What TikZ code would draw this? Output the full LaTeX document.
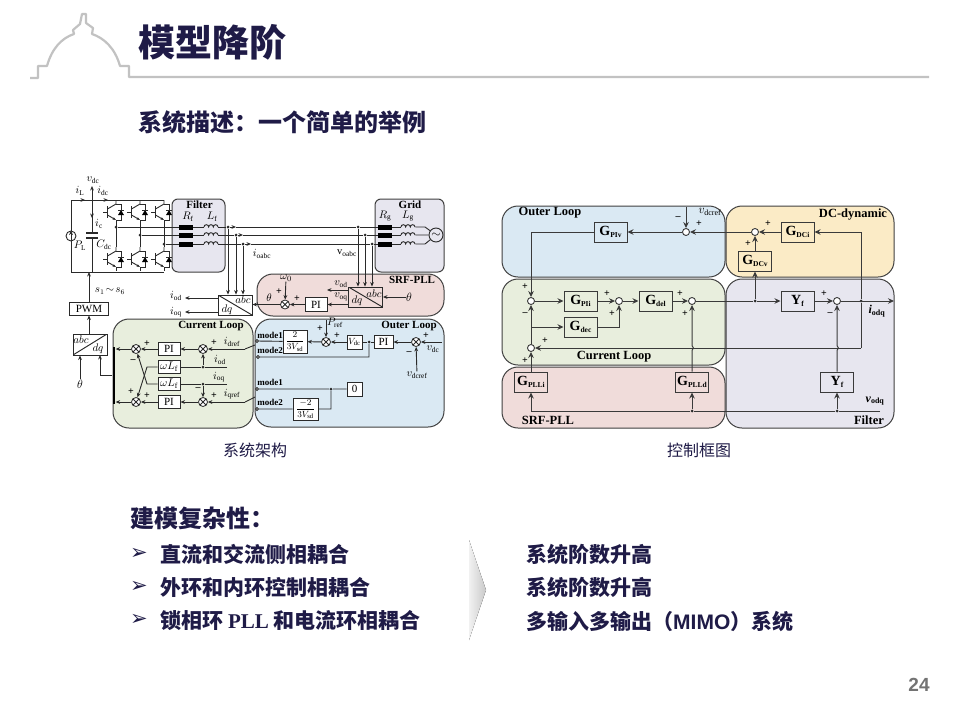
\documentclass[tikz,border=0pt]{standalone}
\usepackage{fontspec}
\setmainfont{Liberation Serif}
\newfontfamily\cjk{Noto Sans CJK SC}
\newfontfamily\numfont{Liberation Sans}
\newfontfamily\symfont{DejaVu Sans}
\usetikzlibrary{arrows.meta}
\newcommand{\fs}[1]{\fontsize{#1}{#1}\selectfont}
\newcommand{\gsub}[2]{#1\raisebox{-.3ex}{\fs{7.5}#2}}
\definecolor{ink}{HTML}{1F1B47}
\definecolor{wire}{HTML}{2A2A2A}
\definecolor{wirer}{HTML}{3A3A3A}
\definecolor{rulegray}{HTML}{C2C2C2}
\definecolor{outerblue}{HTML}{DAE9F3}
\definecolor{currgreen}{HTML}{E8EEDD}
\definecolor{pllred}{HTML}{F0DCDA}
\definecolor{dcyellow}{HTML}{FBEBC6}
\definecolor{filtgray}{HTML}{E7E6EF}
\definecolor{chevl}{HTML}{F1F1F1}
\definecolor{chevr}{HTML}{C9C9C9}
\tikzset{
  coil/.pic={\draw (-7,0) arc (180:360:2.33) arc (180:360:2.33) arc (180:360:2.33);},
  igbt/.pic={
    \draw (-13,0) -- (-9,0);
    \draw[line width=1.3pt] (-8.5,-6) -- (-8.5,6);
    \draw (-8.5,-3) -- (0,-8) -- (0,-12);
    \draw[-{Stealth[length=3.5pt]}] (-8.5,3) -- (0,8);
    \draw (0,8) -- (0,12);
    \draw (0,-8) -- (5,-8) -- (5,8) -- (0,8);
    \fill (2,3) -- (8,3) -- (5,-2) -- cycle;
    \draw (2,-2) -- (8,-2);
  },
}
\begin{document}
\begin{tikzpicture}[
  x=1pt,y=-1pt,
  >={Stealth[length=4.5pt,width=3.8pt]},
  wires/.style={draw=wire,line width=.9pt},
  region/.style={draw=black!75,line width=1pt,rounded corners=16pt,inner sep=0pt},
  smallregion/.style={draw=black!75,line width=1pt,rounded corners=6pt,inner sep=0pt},
  block/.style={draw=wire,line width=.95pt,fill=white,inner sep=0pt,font=\fs{11}},
  xfm/.style={block,fill=none,minimum width=34,minimum height=20,
    path picture={\draw (path picture bounding box.north west) -- (path picture bounding box.south east);}},
  xfmr/.style={block,fill=none,minimum width=34,minimum height=21,
    path picture={\draw (path picture bounding box.south west) -- (path picture bounding box.north east);}},
  gblock/.style={block,draw=wirer,line width=1pt,fill=none,minimum width=33,minimum height=20,font=\fs{14}\bfseries},
  sumx/.style={circle,draw=wire,fill=white,inner sep=0pt,minimum size=9,line width=.8pt,
    path picture={\draw (path picture bounding box.north west) -- (path picture bounding box.south east)
      (path picture bounding box.north east) -- (path picture bounding box.south west);}},
  sumo/.style={circle,draw=wirer,fill=white,inner sep=0pt,minimum size=7,line width=.9pt},
  dot/.style={circle,fill=wire,inner sep=0pt,minimum size=3},
  opendot/.style={circle,draw=wire,fill=white,inner sep=0pt,minimum size=3.2},
  lbl/.style={inner sep=0pt,font=\fs{10.5}},
  head/.style={inner sep=0pt,font=\fs{11}\bfseries},
  sgn/.style={inner sep=0pt,font=\fs{10}\bfseries},
  res/.style={fill=black,inner sep=0pt,minimum width=14,minimum height=5},
  ind/.style={inner sep=0pt,minimum width=14,minimum height=.5},
  zh/.style={inner sep=0pt,anchor=west,text=ink,font=\fs{21}\cjk\bfseries},
]
  \useasboundingbox (0,0) rectangle (960,720);
  \fill[white] (0,0) rectangle (960,720);

  % header
  \draw[rulegray,line width=2.2pt,line join=round] (30,78) -- (38,78) -- (38,66) -- (47,66)
    .. controls (52,48) and (62,38) .. (74,34) -- (73,30) -- (80,24) -- (82,14) -- (86,14)
    -- (86,23) -- (93,28) -- (92,34) .. controls (104,38) and (115,48) .. (120,66)
    -- (129,66) -- (129,77) -- (929,77);
  \node[zh,font=\fs{37}\cjk\bfseries] (title) at (138,42) {模型降阶};
  \node[zh,font=\fs{24}\cjk\bfseries] (subtitle) at (138,122) {系统描述：一个简单的举例};

  % left: panels
  \node[smallregion,fill=filtgray,minimum width=53,minimum height=73] (filterbox) at (198.5,235.5) {};
  \node[smallregion,fill=filtgray,minimum width=69,minimum height=73] (gridbox) at (409.5,235.5) {};
  \node[region,fill=pllred,minimum width=187,minimum height=42] (pllbox) at (350.5,295) {};
  \node[region,fill=currgreen,minimum width=140,minimum height=109] (currbox) at (183,373.5) {};
  \node[region,fill=outerblue,minimum width=189,minimum height=108] (outerbox) at (349.5,373) {};

  % left: converter
  \begin{scope}[wires]
  \coordinate (tl) at (71,200);
  \coordinate (tr) at (164,200);
  \coordinate (bl) at (71,272);
  \coordinate (br) at (164,272);
  \coordinate (capt) at (92,233);
  \coordinate (capb) at (92,238);
  \coordinate (busa) at (92,200);
  \coordinate (busb) at (92,272);
  \coordinate (vtop) at (92,186);
  \coordinate (icend) at (92,218);
  \coordinate (ilend) at (85,200);
  \coordinate (idcend) at (108,200);
  \node[circle,draw=wire,inner sep=0pt,minimum size=10] (src) at (71,236) {};
  \draw (tl) -- (tr) (bl) -- (br) (tl) -- (src) -- (bl) (busa) -- (capt) (capb) -- (busb);
  \draw[line width=1.2pt] (86,233) -- (98,233) (86,238) -- (98,238);
  \draw[->] (src.south) -- (src.north);
  \draw[->] (busa) -- (vtop);
  \draw[->] (busa) -- (icend);
  \draw[->] (tl) -- (ilend);
  \draw[->] (busa) -- (idcend);
  \foreach \i/\x/\y in {1/116/227,2/140/235,3/164/244} {
    \pic at (\x,212) {igbt};
    \pic at (\x,259) {igbt};
    \coordinate (up\i) at (\x,224);
    \coordinate (dn\i) at (\x,247);
    \node[dot] (leg\i) at (\x,\y) {};
    \draw (up\i) -- (dn\i);
  }
  \foreach \i/\y/\ja/\jb/\tip in {1/227/228/358/236,2/235/236/365/243,3/244/243/372/251} {
    \node[res] (rf\i) at (186,\y) {};
    \node[ind] (lf\i) at (211,\y) {};
    \pic at (lf\i) {coil};
    \node[dot] (ja\i) at (\ja,\y) {};
    \node[dot] (jb\i) at (\jb,\y) {};
    \coordinate (tip\i) at (\tip,\y);
    \node[res] (rg\i) at (385,\y) {};
    \node[ind] (lg\i) at (408,\y) {};
    \pic at (lg\i) {coil};
    \draw (leg\i) -- (rf\i) -- (lf\i) -- (ja\i);
    \draw[->] (ja\i) -- (tip\i);
    \draw (tip\i) -- (jb\i) -- (rg\i) -- (lg\i);
  }
  \node[circle,draw=wire,inner sep=0pt,minimum size=14,font=\fs{12}] (grid) at (436,235) {$\sim$};
  \draw (lg1) -- (425,227) -- (grid) (lg2) -- (grid) (lg3) -- (425,244) -- (grid);
  \node[block,minimum width=39,minimum height=13] (pwm) at (89,308.5) {PWM};
  \draw[->] (pwm.north) -- (pwm.north |- bl);
  \node[xfm] (xfmo) at (235,305) {};
  \node[xfm] (xfmv) at (365.5,297) {};
  \node[xfmr] (xfmc) at (90,344.5) {};
  \foreach \i in {1,2,3} {
    \draw[->] (ja\i) -- (ja\i |- xfmo.north);
    \draw[->] (jb\i) -- (jb\i |- xfmv.north);
  }
  \coordinate (iodend) at (185,298);
  \coordinate (ioqend) at (185,312);
  \draw[->] (xfmo.west |- iodend) -- (iodend);
  \draw[->] (xfmo.west |- ioqend) -- (ioqend);

  % left: srf-pll
  \node[sumx] (sumw) at (285,304.5) {};
  \node[block,minimum width=22,minimum height=14] (pipll) at (316,304.5) {PI};
  \node[lbl,font=\fs{11}] (wzero) at (286,278) {$\omega_0$};
  \node[lbl,font=\fs{12}] (thpll) at (409,297) {$\theta$};
  \coordinate (vodend) at (327,290);
  \draw[->] (xfmv.west |- pipll) -- (pipll);
  \draw[->] (pipll) -- (sumw);
  \draw[->] (sumw) -- (xfmo.east |- sumw);
  \draw[->] (wzero) -- (sumw);
  \draw[->] (xfmv.west |- vodend) -- (vodend);
  \draw[->] (thpll) -- (xfmv.east |- thpll);

  % left: current loop
  \node[fill=black,inner sep=0pt,minimum width=2.4,minimum height=57] (bar) at (114,375.5) {};
  \node[sumx] (sumt1) at (136,349) {};
  \node[sumx] (sumb1) at (136,402) {};
  \node[sumx] (sumt2) at (203,349) {};
  \node[sumx] (sumb2) at (203,402) {};
  \node[block,minimum width=22,minimum height=13] (pit) at (169,349) {PI};
  \node[block,minimum width=22,minimum height=13] (pib) at (169,402) {PI};
  \node[block,minimum width=22,minimum height=13] (wlt) at (169,367) {$\omega L_{\mathrm{f}}$};
  \node[block,minimum width=22,minimum height=13] (wlb) at (169,384) {$\omega L_{\mathrm{f}}$};
  \coordinate (idrefa) at (245,349);
  \coordinate (idrefb) at (255,345);
  \coordinate (iqrefa) at (245,402);
  \coordinate (iqrefb) at (255,397);
  \coordinate (iodr) at (227,367);
  \coordinate (ioqr) at (227,384);
  \coordinate (crossa) at (147,367);
  \coordinate (crossb) at (147,384);
  \coordinate (barup) at (100,355);
  \node[dot] (jiod) at (203,367) {};
  \node[dot] (jioq) at (203,384) {};
  \node[lbl,font=\fs{12}] (thc) at (80,384) {$\theta$};
  \draw (idrefb) -- (idrefa) (iqrefb) -- (iqrefa);
  \foreach \a/\b in {idrefa/sumt2,sumt2/pit,pit/sumt1,iqrefa/sumb2,sumb2/pib,pib/sumb1,jiod/sumt2,jioq/sumb2}
    \draw[->] (\a) -- (\b);
  \draw[->] (sumt1) -- (sumt1 -| bar.east);
  \draw[->] (sumb1) -- (sumb1 -| bar.east);
  \draw (iodr) -- (jiod) -- (wlt) (ioqr) -- (jioq) -- (wlb);
  \draw[->] (wlt) -- (crossa) -- (sumb1);
  \draw[->] (wlb) -- (crossb) -- (sumt1);
  \draw[->] (bar.west) -| (barup);
  \draw[->] (thc) -- (thc |- xfmc.south);
  \draw[->] (xfmc.north -| pwm) -- (pwm);

  % left: outer loop
  \foreach \n/\x/\y in {swa/257/341,swb/258/357,swc/257/389,swd/257/409}
    \node[opendot] (\n) at (\x,\y) {};
  \node[block,minimum width=24,minimum height=23,font=\fs{9.5}] (gone) at (295,341.5) {$\displaystyle\frac{2}{3V_{\mathrm{sd}}}$};
  \node[sumx] (sump) at (326,342) {};
  \node[block,minimum width=15,minimum height=14,font=\fs{9.5}] (vdcb) at (354.5,342) {$V_{\mathrm{dc}}$};
  \node[block,minimum width=19,minimum height=13] (piout) at (383.5,342) {PI};
  \node[sumx] (sumv) at (416,342) {};
  \node[block,minimum width=15,minimum height=14] (zero) at (354.5,389) {0};
  \node[block,minimum width=25,minimum height=22,font=\fs{9.5}] (gtwo) at (305.5,409) {$\displaystyle\frac{-2}{3V_{\mathrm{sd}}}$};
  \node[dot] (jpi) at (369,342) {};
  \node[dot] (jzero) at (331,389) {};
  \coordinate (vdcr) at (442,342);
  \node[lbl] (pref) at (335,323) {$P_{\mathrm{ref}}$};
  \node[lbl] (vdcref) at (417,375) {$v_{\mathrm{dcref}}$};
  \foreach \a/\b in {vdcr/sumv,sumv/piout,vdcb/sump,sump/gone}
    \draw[->] (\a) -- (\b);
  \draw (piout) -- (jpi) -- (vdcb);
  \draw[->] (vdcref) -- (sumv);
  \coordinate (prefin) at (326,320);
  \draw[->] (prefin) -- (sump);
  \draw (gone) -- (swa) (swb) -| (jpi) (swc) -- (jzero) -- (zero) (swd) -- (gtwo) -| (jzero);

  % left: texts
  \foreach \n/\x/\y/\t in {
    vdclab/93/180/{$v_{\mathrm{dc}}$},ilab/80/191/{$i_{\mathrm{L}}$},idclab/103/191/{$i_{\mathrm{dc}}$},
    iclab/99/224/{$i_{\mathrm{c}}$},cdclab/104/245/{$C_{\mathrm{dc}}$},plab/80/246/{$P_{\mathrm{L}}$},
    swlab/110/291/{$s_1\!\sim\! s_6$},rflab/188/217/{$R_{\mathrm{f}}$},lflab/212/217/{$L_{\mathrm{f}}$},
    rglab/385/216/{$R_{\mathrm{g}}$},lglab/408/216/{$L_{\mathrm{g}}$},
    ioabc/262/254/{$i_{\mathrm{oabc}}$},voabc/347/253/{$\mathrm{v}_{\mathrm{oabc}}$},
    iodl/176/296/{$i_{\mathrm{od}}$},ioql/176/312/{$i_{\mathrm{oq}}$},
    vodl/341/284/{$v_{\mathrm{od}}$},voql/341/297/{$v_{\mathrm{oq}}$},thl/269/298/{$\theta$},
    idrl/232/342/{$i_{\mathrm{dref}}$},iodc/220/360/{$i_{\mathrm{od}}$},ioqc/219/377/{$i_{\mathrm{oq}}$},iqrl/232/394/{$i_{\mathrm{qref}}$},
    vdcl/433/349/{$v_{\mathrm{dc}}$},
    abca/243/300/{$abc$},dqa/227/310/{$dq$},abcb/374/294/{$abc$},dqb/357/301/{$dq$},abcc/81/340/{$abc$},dqc/98/349/{$dq$},
    modea/270/335/{\fs{9}\bfseries mode1},modeb/270/350/{\fs{9}\bfseries mode2},modec/270/382/{\fs{9}\bfseries mode1},moded/270/402/{\fs{9}\bfseries mode2}}
    \node[lbl] (\n) at (\x,\y) {\t};
  \foreach \n/\x/\y/\t in {filterlab/199.5/205/Filter,gridlab/410/205/Grid,plllab/412/280/{SRF-PLL},
    currlab/211/326/{Current Loop},outerlab/409/326/{Outer Loop}}
    \node[head] (\n) at (\x,\y) {\t};
  \foreach \x/\y/\t [count=\k] in {147/344/+,133/361/--,131/392/+,147/396/+,214/343/+,198/389/--,214/396/+,
    320/329/+,337/336/+,426/336/+,409/353/--,279/292/+,297/299/+}
    \node[sgn] (sa\k) at (\x,\y) {\t};
  \end{scope}
  \node[inner sep=0pt,font=\fs{16}\cjk,text=ink] (capa) at (255,450) {系统架构};

  % right: panels
  \node[region,fill=outerblue,minimum width=223,minimum height=71] (routerb) at (613.5,241.5) {};
  \node[region,fill=currgreen,minimum width=223,minimum height=86] (rcurrb) at (613.5,322) {};
  \node[region,fill=pllred,minimum width=223,minimum height=61] (rpllb) at (613.5,397.5) {};
  \node[region,fill=dcyellow,minimum width=168,minimum height=71] (rdcb) at (810,241.5) {};
  \node[region,fill=filtgray,minimum width=168,minimum height=149] (rfiltb) at (810,353.5) {};

  % right: blocks
  \node[gblock] (gpiv) at (610.5,232) {\gsub{G}{PIv}};
  \node[gblock] (gpii) at (580.5,301) {\gsub{G}{PIi}};
  \node[gblock] (gdec) at (580.5,327) {\gsub{G}{dec}};
  \node[gblock] (gdel) at (655.5,301) {\gsub{G}{del}};
  \node[gblock] (gdci) at (797.5,232) {\gsub{G}{DCi}};
  \node[gblock] (gdcv) at (755,261) {\gsub{G}{DCv}};
  \node[gblock] (yfa) at (797.5,301) {\gsub{Y}{f}};
  \node[gblock] (yfb) at (837,382) {\gsub{Y}{f}};
  \node[gblock] (gplli) at (531,382) {\gsub{G}{PLLi}};
  \node[gblock] (gplld) at (692,382) {\gsub{G}{PLLd}};

  \node[sumo] (sdc) at (686,232) {};
  \node[sumo] (sdcb) at (755,232) {};
  \node[sumo] (scua) at (531,301) {};
  \node[sumo] (scub) at (619,301) {};
  \node[sumo] (scuc) at (692,301) {};
  \node[sumo] (scud) at (531,348) {};
  \node[sumo] (sfil) at (837,301) {};

  \node[dot] (jdcv) at (755,301) {};
  \node[dot] (jout) at (861,301) {};
  \node[dot] (jvb) at (837,411) {};
  \node[dot] (jvc) at (692,411) {};
  \coordinate (jdec) at (531,327);
  \coordinate (iout) at (894,301);
  \coordinate (vstart) at (880,411);
  \coordinate (backc) at (861,348);
  \coordinate (hopa) at (692,350.5);
  \coordinate (hopb) at (692,345.5);
  \coordinate (hopc) at (837,350.5);
  \coordinate (hopd) at (837,345.5);
  \node[inner sep=0pt,font=\fs{12}\bfseries] (vdcrefr) at (710,212) {$v_{\mathrm{dcref}}$};
  \coordinate (vdcin) at (686,207);

  % right: connectors
  \begin{scope}[draw=wirer,line width=1pt,>={Stealth[length=6pt,width=5.5pt]}]
  \foreach \a/\b in {sdcb/sdc,gdci/sdcb,gdcv/sdcb,sdc/gpiv,scua/gpii,gpii/scub,scub/gdel,gdel/scuc,jdcv/gdcv,jdcv/yfa,yfa/sfil,
    sfil/iout,scud/scua,jdec/gdec,vdcin/sdc,backc/scud,gplli/scud,jvb/yfb,jvc/gplld}
    \draw[->] (\a) -- (\b);
  \draw[->] (gpiv) -| (scua);
  \draw[->] (gdec) -| (scub);
  \draw[->] (jout) |- (gdci);
  \draw (jout) -- (backc);
  \draw (scuc) -- (jdcv);
  \draw[->] (gplld.north) -- (hopa) to[bend right=70] (hopb) -- (scuc);
  \draw[->] (yfb.north) -- (hopc) to[bend right=70] (hopd) -- (sfil);
  \draw (vstart) -- (jvb) -- (jvc);
  \draw[->] (jvc) -| (gplli);
  \end{scope}
  % right: texts
  \foreach \n/\x/\y/\t in {router/550/213/{Outer Loop},rcurr/614/357/{Current Loop},rpll/548/420/{SRF-PLL},
    rdc/853/215/{DC-dynamic},rfilt/869/420/{Filter}}
    \node[head,font=\fs{12.5}\bfseries] (\n) at (\x,\y) {\t};
  \node[lbl,font=\fs{12}\bfseries] (iodq) at (877,311) {\textit{i}\textsubscript{odq}};
  \node[lbl,font=\fs{12}\bfseries] (vodq) at (875,401) {\textit{v}\textsubscript{odq}};
  \foreach \x/\y/\t [count=\k] in {678/218/--,699/224/+,525/287/+,525/314/--,545/341/+,525/361/+,607/294/+,612/314/+,680/294/+,685/314/+,
    768/224/+,748/244/+,824/294/+,830/314/--}
    \node[sgn] (sb\k) at (\x,\y) {\t};
  \node[inner sep=0pt,font=\fs{16}\cjk,text=ink] (capb) at (699,450) {控制框图};

  % footer
  \node[zh,font=\fs{24}\cjk\bfseries] (cplx) at (130,518) {建模复杂性：};
  \foreach \n/\y/\t in {ba/554/直流和交流侧相耦合,bb/587/外环和内环控制相耦合,bc/620/{锁相环 {\normalfont\rmfamily\bfseries PLL} 和电流环相耦合}} {
    \node[inner sep=0pt,font=\fs{21}\symfont\bfseries,text=ink] (\n) at (139,\y) {➢};
    \node[zh] (t\n) at (160,\y) {\t};
  }
  \fill[left color=chevl,right color=chevr] (469,540) -- (486,590) -- (469,640) -- cycle;
  \foreach \n/\y/\t in {ra/554/系统阶数升高,rb/587/系统阶数升高,rc/621/{多输入多输出（{\numfont\bfseries MIMO}）系统}}
    \node[zh] (\n) at (526,\y) {\t};
  \node[inner sep=0pt,font=\fs{19}\numfont\bfseries,text=black!55] (page) at (919,685) {24};
\end{tikzpicture}
\end{document}
